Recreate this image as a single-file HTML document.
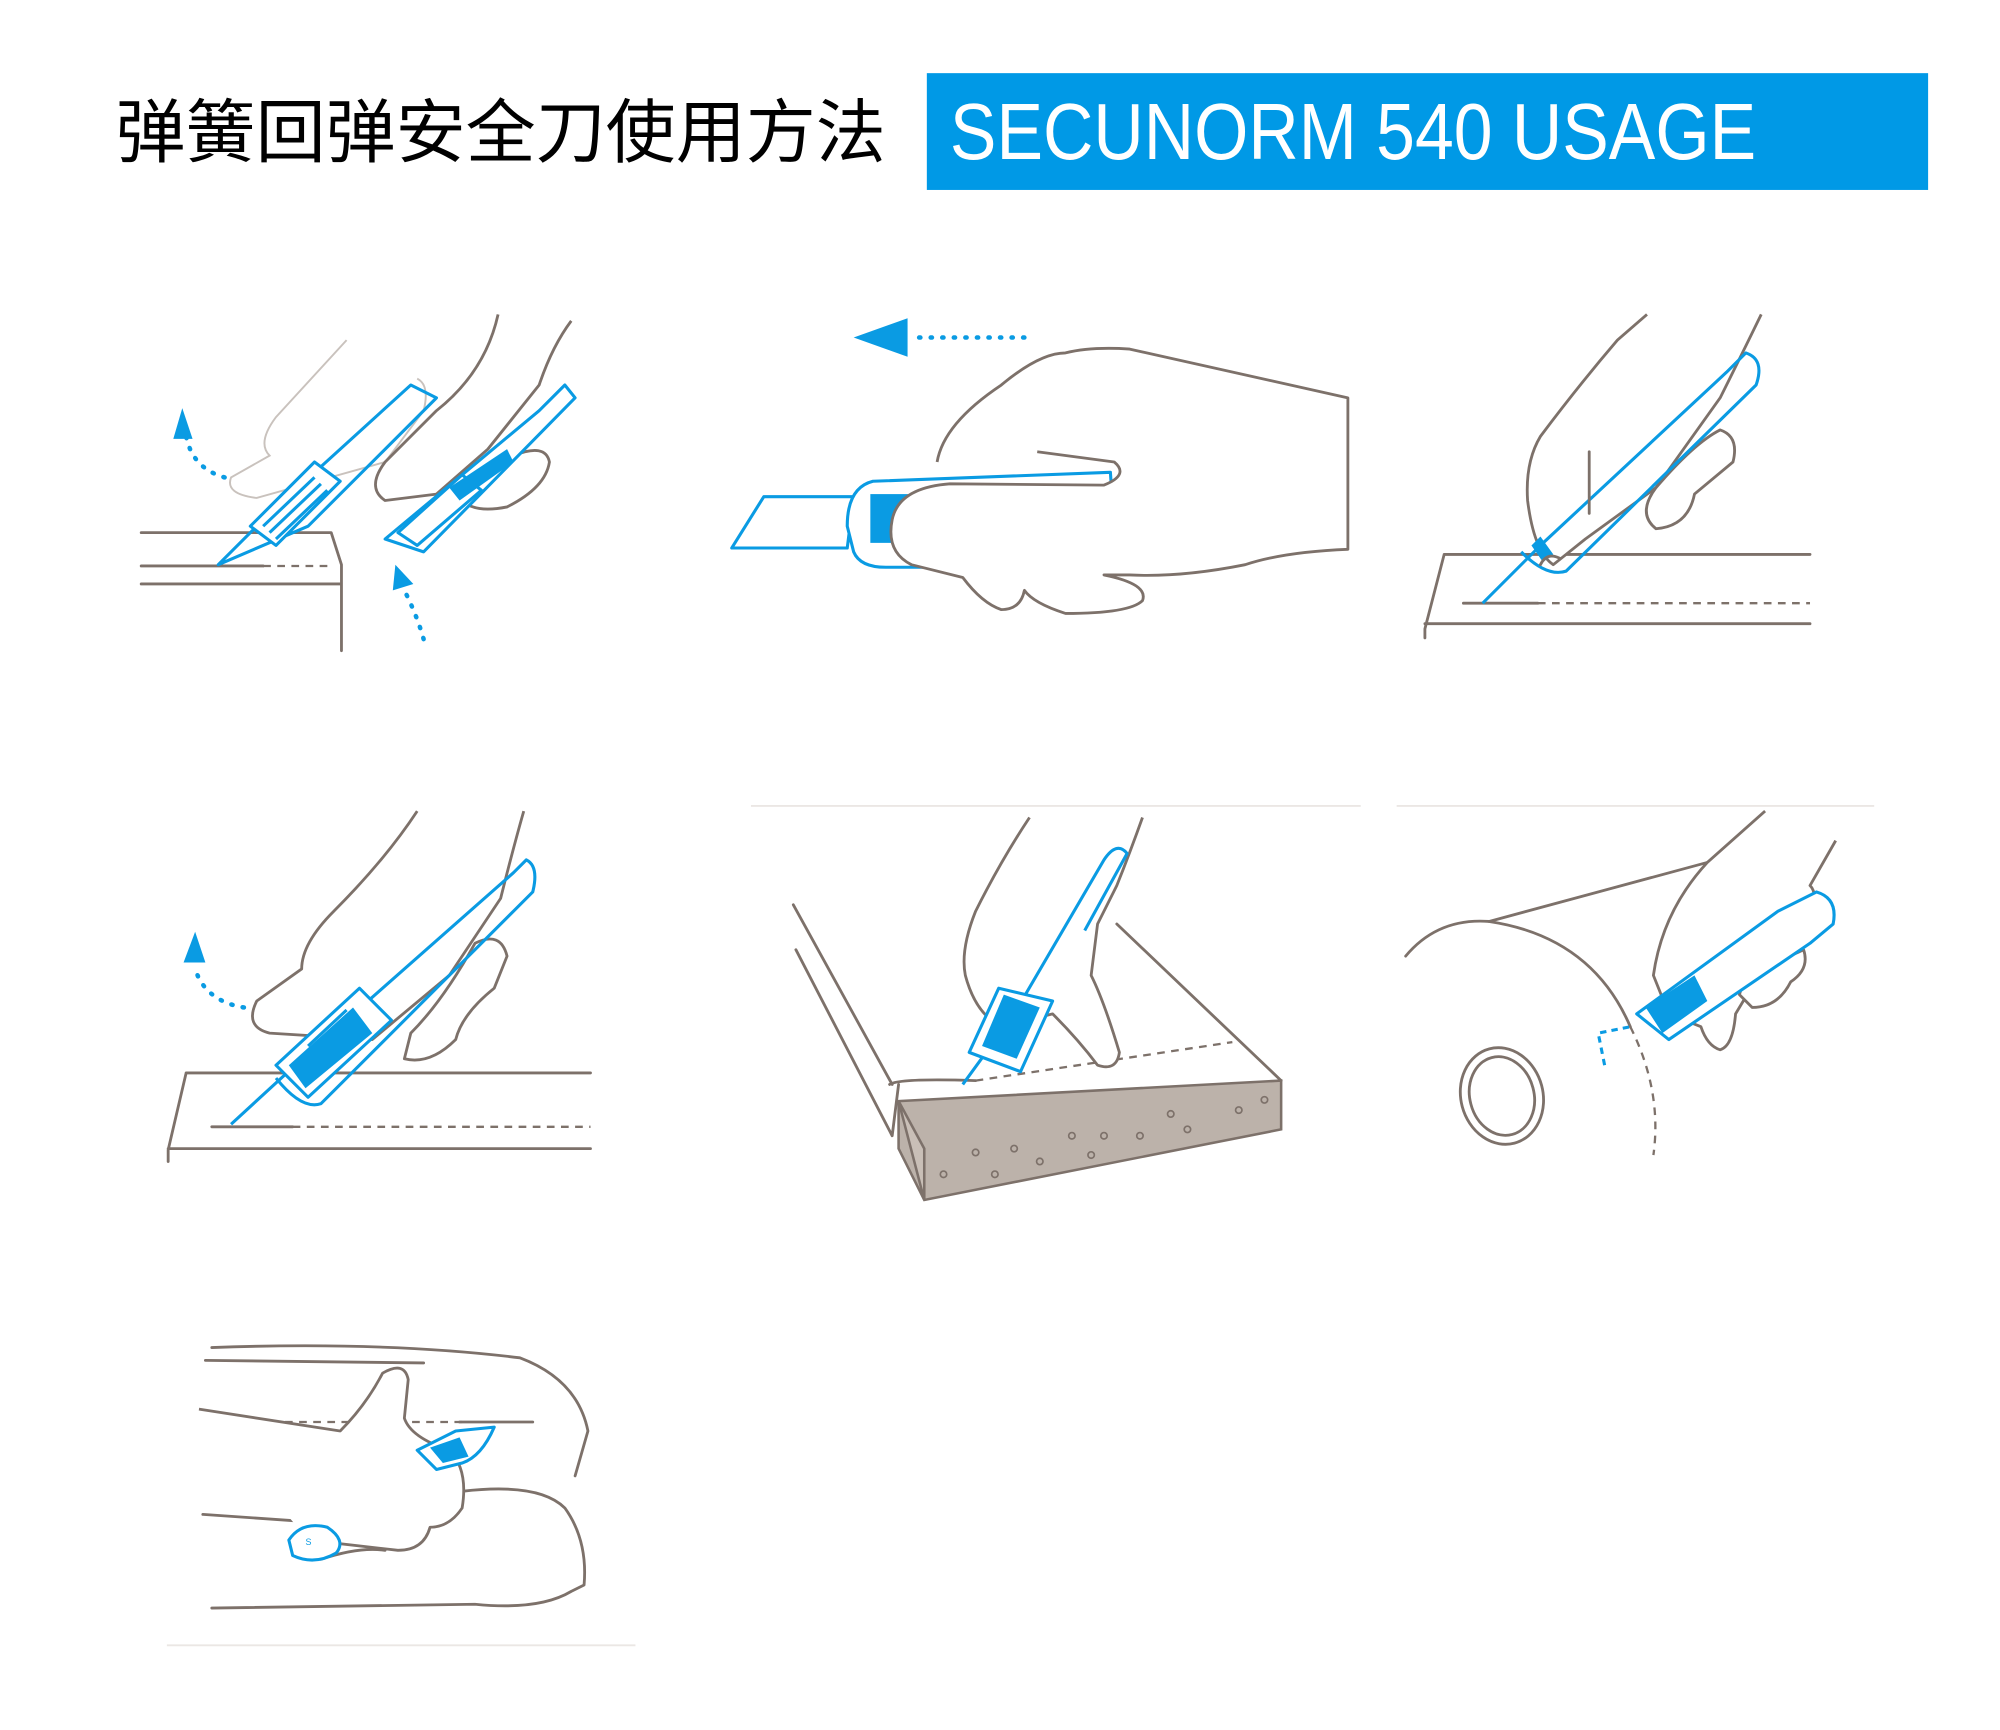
<!DOCTYPE html>
<html><head><meta charset="utf-8">
<style>
html,body{margin:0;padding:0;background:#fff;}
svg{display:block;}
.g{fill:none;stroke:#7d716a;stroke-width:2.2;stroke-linecap:round;stroke-linejoin:round;}
.gf{fill:#fff;stroke:#7d716a;stroke-width:2.2;stroke-linejoin:round;}
.b{fill:none;stroke:#0a9be3;stroke-width:2.4;stroke-linejoin:round;}
.bf{fill:#fff;stroke:#0a9be3;stroke-width:2.4;stroke-linejoin:round;}
.bd{fill:none;stroke:#0a9be3;stroke-width:3.5;stroke-dasharray:1 8;stroke-linecap:round;}
.gd{fill:none;stroke:#7d716a;stroke-width:1.8;stroke-dasharray:6 5;}
.lg{fill:none;stroke:#ebe7e4;stroke-width:1.5;}
</style></head><body>
<svg width="2000" height="1730" viewBox="0 0 1558 1348" preserveAspectRatio="none" xmlns="http://www.w3.org/2000/svg">
<text x="90" y="122" font-family="Liberation Sans, Noto Sans CJK SC, sans-serif" font-size="54" textLength="600" lengthAdjust="spacingAndGlyphs" fill="#000">弹簧回弹安全刀使用方法</text>
<rect x="722" y="57" width="780" height="91" fill="#0099e6"/>
<text x="740" y="124" font-family="Liberation Sans, sans-serif" font-size="62" textLength="628" lengthAdjust="spacingAndGlyphs" fill="#fff">SECUNORM 540 USAGE</text>

<!-- Panel 1 -->
<g>
<path class="g" d="M110 415 H258 L266 440 V507 M110 455 H266"/>
<path class="g" d="M110 441 H205" stroke-width="4"/>
<path class="gd" d="M205 441 H260"/>
<path class="lg" d="M270 265 L215 325 Q200 345 210 355 L180 372 Q175 385 200 388 L300 360 L330 320 Q335 300 325 295" style="stroke:#c9c2bd"/>
<path class="b" d="M170 440 L210 400 L320 300 L340 310 L240 410 Z"/>
<path class="bf" d="M195 410 L245 360 L265 375 L215 425 Z"/>
<path class="b" d="M205 410 l40 -38 M210 415 l40 -38 M215 420 l40 -38"/>
<path class="gf" d="M388 245 Q378 290 340 320 L300 360 Q285 380 300 390 L340 385 L380 350 L420 300 Q430 270 445 250"/>
<path class="gf" d="M360 370 Q380 360 400 355 Q425 345 428 360 Q425 380 395 395 Q370 400 360 390"/>
<path class="bf" d="M300 420 L420 320 L440 300 L448 310 L330 430 Z"/>
<path class="bf" d="M310 415 L360 370 L375 382 L325 425 Z"/>
<path fill="#0a9be3" d="M350 380 L395 350 L400 360 L358 390 Z"/>
<path class="bd" d="M175 372 Q150 365 145 340"/>
<path fill="#0a9be3" d="M135 342 L142 318 L150 342 Z"/>
<path class="bd" d="M330 498 Q325 480 315 460"/>
<path fill="#0a9be3" d="M306 460 L308 440 L322 455 Z"/>
</g>

<!-- Panel 2 -->
<g>
<path fill="#0a9be3" d="M665 263 L707 248 L707 278 Z"/>
<path class="bd" d="M716 263 H805"/>
<path class="b" d="M570 427 L595 387 H665 L660 427 Z"/>
<path class="bf" d="M660 410 Q660 380 680 375 L865 368 L870 442 L690 442 Q670 442 665 430 Z"/>
<rect x="678" y="385" width="30" height="38" fill="#0a9be3"/>
<path class="gf" d="M730 360 Q735 330 780 300 Q810 275 830 275 Q850 270 880 272 Q960 290 1050 310 L1050 428 Q1000 430 970 440 Q920 450 880 448 L860 448 Q895 455 890 468 Q880 478 830 478 Q805 470 798 460 Q795 475 780 475 Q765 470 750 450 L710 440 Q690 430 695 405 Q700 380 740 377 L860 378 Q880 370 868 360 L808 352"/>
</g>

<!-- Panel 3 -->
<g>
<path class="g" d="M1125 432 H1410 M1125 432 L1110 490 V497 M1110 486 H1410"/>
<path class="g" d="M1140 470 H1198" stroke-width="4"/>
<path class="gd" d="M1198 470 H1410"/>
<path class="gf" d="M1283 245 L1260 265 Q1230 300 1200 340 Q1188 360 1190 390 Q1195 430 1210 440 L1235 420 L1290 380 L1340 310 Q1355 280 1372 245"/>
<path class="gf" d="M1290 380 Q1320 345 1340 335 Q1355 340 1350 360 L1320 385 Q1315 410 1290 412 Q1275 400 1290 380"/>
<path class="b" d="M1155 470 L1200 425 L1345 290 L1360 275 Q1375 280 1368 300 L1220 445 Q1205 450 1185 430"/>
<path fill="#0a9be3" d="M1193 425 L1200 418 L1210 432 L1202 438 Z"/>
<path class="g" d="M1200 440 Q1205 430 1215 435 M1238 352 V400"/>
</g>

<!-- Panel 4 -->
<g>
<path class="g" d="M145 836 H460 M145 836 L131 896 V905 M131 895 H460"/>
<path class="g" d="M165 878 H228" stroke-width="4"/>
<path class="gd" d="M228 878 H460"/>
<path class="gf" d="M325 632 Q300 670 260 710 Q235 735 235 755 L200 780 Q190 800 210 805 L290 810 L350 760 L390 700 Q400 660 408 632"/>
<path class="gf" d="M320 805 Q345 780 370 735 Q390 725 395 745 L385 770 Q360 790 355 810 Q335 830 315 825 Z"/>
<path class="b" d="M180 876 L230 830 L400 680 L410 670 Q420 675 415 695 L250 860 Q235 865 215 840"/>
<path class="bf" d="M215 830 L280 770 L305 795 L240 855 Z"/>
<path fill="#0a9be3" d="M225 830 L275 785 L290 805 L238 848 Z"/>
<path class="b" d="M240 815 l30 -28 M245 822 l30 -28 M252 830 l30 -28" stroke="#fff" stroke-width="2"/>
<path class="bd" d="M190 785 Q160 780 152 755"/>
<path fill="#0a9be3" d="M143 750 L152 726 L160 750 Z"/>
</g>

<!-- Panel 5 -->
<g>
<path class="lg" d="M585 628 H1060"/>
<path class="g" d="M618 705 L695 845 M620 740 L695 885 L700 845"/>
<path class="g" d="M693 845 Q700 840 760 842"/>
<path class="g" d="M870 720 L998 842"/>
<path fill="#bcb2aa" stroke="#7d716a" stroke-width="2" d="M700 858 L998 842 L998 880 L720 935 L700 895 Z"/>
<path fill="#c9bfb7" stroke="#7d716a" stroke-width="2" d="M700 858 L720 935 L720 895 Z"/>
<path class="gd" d="M760 842 L960 812"/>
<g fill="none" stroke="#7d716a" stroke-width="1.3">
<circle cx="735" cy="915" r="2.5"/><circle cx="775" cy="915" r="2.5"/><circle cx="790" cy="895" r="2.5"/><circle cx="810" cy="905" r="2.5"/><circle cx="835" cy="885" r="2.5"/><circle cx="860" cy="885" r="2.5"/><circle cx="888" cy="885" r="2.5"/><circle cx="912" cy="868" r="2.5"/><circle cx="925" cy="880" r="2.5"/><circle cx="965" cy="865" r="2.5"/><circle cx="985" cy="857" r="2.5"/><circle cx="850" cy="900" r="2.5"/><circle cx="760" cy="898" r="2.5"/>
</g>
<path class="gf" d="M802 637 Q780 670 760 710 Q748 740 752 760 Q760 790 780 800 L820 790 Q840 810 855 830 Q870 835 872 820 Q860 780 850 760 L855 720 L870 690 Q880 665 890 637"/>
<path class="b" d="M750 845 L790 790 L860 670 Q870 655 878 665 L845 725"/>
<path class="bf" d="M755 820 L778 770 L820 780 L795 835 Z"/>
<path fill="#0a9be3" d="M765 815 L782 775 L810 785 L792 825 Z"/>
</g>

<!-- Panel 6 -->
<g>
<path class="lg" d="M1088 628 H1460"/>
<path class="g" d="M1095 745 Q1120 715 1160 718 L1330 672"/>
<path class="g" d="M1160 718 Q1240 730 1270 800"/>
<path class="gd" d="M1270 800 Q1295 850 1288 900"/>
<ellipse cx="1170" cy="854" rx="32" ry="38" class="g" transform="rotate(-15 1170 854)"/>
<ellipse cx="1170" cy="854" rx="25" ry="31" class="g" transform="rotate(-15 1170 854)"/>
<path class="gf" d="M1375 632 L1330 672 Q1295 710 1288 760 L1300 790 L1325 800 Q1330 815 1340 818 Q1350 815 1352 790 L1370 760 L1400 730 Q1420 700 1410 690 L1430 655"/>
<path class="gf" d="M1355 775 Q1360 755 1380 750 Q1395 745 1405 740 Q1410 755 1395 765 Q1385 785 1365 785 Z"/>
<path class="bf" d="M1275 790 L1385 710 L1415 695 Q1432 700 1428 720 L1410 735 L1300 810 Z"/>
<path fill="#0a9be3" d="M1282 785 L1320 760 L1330 780 L1295 805 Z"/>
<path class="b" d="M1250 830 L1245 805 L1270 800" stroke-dasharray="5 4"/>
</g>

<!-- Panel 7 -->
<g>
<path class="lg" d="M130 1282 H495"/>
<path class="g" d="M165 1050 Q300 1045 405 1058 Q450 1075 458 1115 L448 1150"/>
<path class="g" d="M160 1060 L330 1062"/>
<path class="gd" d="M200 1108 H360"/>
<path class="g" d="M358 1108 H415" stroke-width="4"/>
<path class="g" d="M158 1180 L230 1185 M250 1215 Q280 1205 300 1208"/>
<path class="g" d="M360 1162 Q420 1155 440 1175 Q458 1200 455 1235 L445 1240 Q420 1255 370 1250 L165 1253"/>
<path class="gf" d="M155 1098 L265 1115 Q285 1095 298 1070 Q315 1060 318 1075 L315 1105 Q320 1120 350 1130 Q365 1145 360 1175 Q350 1190 335 1190 Q330 1208 310 1208 L240 1200"/>
<path class="bf" d="M325 1130 L355 1115 L385 1112 Q375 1135 360 1140 L340 1145 Z"/>
<path fill="#0a9be3" d="M335 1128 L358 1120 L365 1135 L345 1140 Z"/>
<path class="bf" d="M225 1200 Q235 1185 255 1190 Q270 1200 262 1210 Q245 1220 228 1212 Z"/>
<text x="238" y="1204" font-family="Liberation Sans, sans-serif" font-size="7" fill="#0a9be3">S</text>
</g>
</svg>
</body></html>
